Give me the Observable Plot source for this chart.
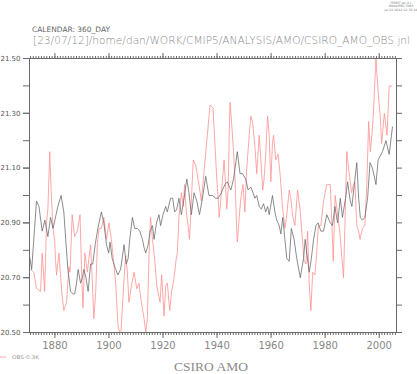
<!DOCTYPE html>
<html><head><meta charset="utf-8">
<script src="https://cdn.jsdelivr.net/npm/d3@7"></script>
<script src="https://cdn.jsdelivr.net/npm/@observablehq/plot@0.6"></script>
<style>body{margin:0;background:#fff}svg{display:block}</style>
</head><body><div id="chart"></div>
<script>
const modelYears = [1870.6,1871.4,1873.2,1874.1,1875.3,1876.3,1877.4,1878.4,1879.3,1881.1,1882.3,1883.3,1884.0,1884.8,1885.8,1886.8,1887.3,1888.0,1888.6,1889.5,1890.2,1890.7,1891.5,1892.3,1893.2,1894.0,1894.9,1895.9,1897.2,1898.1,1899.1,1899.9,1900.4,1901.2,1902.5,1903.3,1904.3,1905.6,1906.4,1907.1,1907.7,1908.7,1909.5,1910.5,1911.4,1912.4,1913.0,1913.6,1914.5,1915.2,1916.1,1916.7,1917.6,1918.5,1919.1,1920.0,1921.0,1921.6,1922.8,1923.6,1924.3,1925.1,1925.9,1926.8,1927.8,1928.8,1929.6,1930.5,1931.5,1932.5,1933.5,1934.6,1935.8,1937.0,1938.3,1939.5,1940.4,1941.6,1942.9,1943.8,1945.1,1946.1,1947.5,1948.5,1949.4,1950.6,1951.5,1952.5,1953.3,1954.0,1954.7,1955.6,1956.4,1957.2,1958.0,1958.7,1959.3,1960.5,1961.4,1962.1,1963.0,1963.6,1964.3,1965.1,1965.8,1966.7,1967.5,1968.5,1969.5,1970.8,1972.0,1972.6,1973.2,1974.1,1974.9,1975.7,1976.6,1977.4,1978.4,1979.4,1980.6,1981.9,1982.7,1983.6,1984.6,1985.6,1986.4,1987.7,1988.3,1989.3,1989.9,1990.8,1991.7,1992.4,1993.0,1993.8,1994.7,1995.7,1996.6,1997.5,1998.8,1999.6,2001.2,2002.5,2003.7,2004.9];
const modelValues = [20.78,20.73,20.98,20.96,20.87,20.91,20.85,20.92,20.88,20.96,21.00,20.94,20.84,20.73,20.65,20.64,20.64,20.68,20.73,20.68,20.70,20.73,20.70,20.65,20.75,20.75,20.82,20.88,20.94,20.90,20.82,20.79,20.83,20.77,20.73,20.71,20.73,20.82,20.75,20.77,20.84,20.92,20.88,20.88,20.87,20.84,20.81,20.79,20.82,20.87,20.89,20.84,20.90,20.93,20.89,20.93,20.96,20.94,20.99,20.99,20.94,20.95,20.99,20.93,20.99,21.06,21.01,20.93,21.01,20.98,20.93,20.99,21.07,21.00,21.00,20.99,20.99,21.01,21.04,21.05,21.02,21.06,21.16,21.08,21.08,21.06,21.02,21.03,21.01,20.99,21.00,20.96,20.95,20.97,20.94,20.96,20.93,21.00,20.94,20.91,20.89,20.86,20.92,20.84,20.77,20.76,20.88,20.84,20.77,20.70,20.77,20.84,20.79,20.72,20.77,20.84,20.89,20.90,20.87,20.87,20.93,20.90,20.89,20.96,20.90,20.99,20.92,21.00,21.05,20.98,20.96,21.04,21.12,20.99,20.92,20.91,20.92,20.99,21.12,21.10,21.04,21.13,21.16,21.20,21.15,21.25];
const obsYears = [1871.0,1872.2,1873.2,1874.7,1875.3,1876.2,1876.9,1877.4,1878.1,1878.6,1879.3,1879.9,1880.2,1880.6,1881.5,1882.5,1883.3,1884.3,1885.2,1885.6,1886.4,1887.3,1888.3,1889.3,1889.9,1890.4,1891.1,1892.0,1893.2,1893.7,1894.4,1895.1,1895.7,1896.3,1897.2,1898.1,1899.1,1900.0,1900.9,1901.6,1902.5,1903.3,1904.3,1905.6,1906.2,1906.8,1907.4,1908.3,1909.3,1910.3,1911.1,1912.0,1913.0,1913.6,1914.2,1914.8,1915.4,1916.1,1916.9,1917.7,1918.3,1918.9,1919.5,1920.4,1921.0,1921.6,1922.5,1923.2,1924.1,1924.9,1925.3,1925.9,1926.8,1927.5,1928.0,1928.6,1929.3,1929.8,1930.3,1931.2,1932.1,1933.3,1934.2,1935.4,1936.4,1937.4,1938.5,1939.1,1939.9,1940.4,1940.8,1941.6,1942.2,1942.6,1943.1,1943.6,1944.1,1944.5,1944.8,1945.5,1946.1,1946.7,1947.2,1947.5,1948.2,1948.8,1949.6,1950.3,1951.0,1951.9,1952.5,1953.1,1954.0,1954.7,1955.6,1956.2,1956.9,1957.4,1958.0,1958.7,1959.3,1959.9,1960.5,1960.9,1961.7,1962.6,1963.4,1964.2,1965.1,1965.8,1966.7,1967.3,1967.9,1968.8,1969.8,1970.8,1971.6,1972.2,1972.9,1973.5,1974.1,1974.7,1975.4,1976.2,1976.8,1977.5,1978.4,1979.4,1980.6,1981.9,1982.5,1983.0,1983.7,1984.6,1985.4,1986.2,1986.8,1987.4,1988.0,1988.9,1989.8,1990.5,1991.0,1991.7,1992.4,1992.9,1993.8,1994.7,1995.4,1996.1,1996.7,1997.3,1997.8,1998.8,1999.6,2000.3,2000.9,2001.9,2002.9,2003.7,2004.6];
const obsValues = [20.73,20.72,20.66,20.65,20.79,20.65,20.90,20.95,21.16,21.02,20.88,20.84,20.77,20.71,20.79,20.65,20.58,20.61,20.74,20.72,20.93,20.85,20.87,20.93,20.71,20.59,20.79,20.72,20.82,20.72,20.55,20.65,20.82,20.88,20.88,20.92,20.84,20.90,20.84,20.77,20.68,20.53,20.48,20.70,20.78,20.72,20.61,20.67,20.72,20.66,20.68,20.61,20.55,20.50,20.55,20.77,20.92,20.84,20.77,20.67,20.64,20.61,20.71,20.56,20.67,20.68,20.58,20.65,20.70,20.77,20.79,20.92,21.01,20.96,21.04,20.94,20.89,20.84,20.94,21.13,21.11,21.04,20.98,21.11,21.22,21.33,21.32,21.21,21.06,20.99,20.92,21.01,21.08,21.13,21.05,20.95,21.02,21.22,21.34,21.25,21.16,21.05,20.89,20.83,20.92,20.99,21.04,20.94,21.10,21.22,21.29,21.27,21.18,21.08,21.22,21.13,21.02,21.06,21.15,21.29,21.22,21.05,21.19,21.22,21.13,21.15,21.07,20.96,20.88,20.93,21.02,20.99,20.93,20.89,21.02,20.94,20.84,20.76,20.75,20.87,20.68,20.58,20.72,20.71,20.78,20.89,20.89,20.98,21.04,21.04,20.89,20.76,21.00,20.93,20.87,20.77,20.70,20.92,21.16,21.08,21.01,21.04,21.05,20.89,20.87,20.84,20.88,20.89,21.04,21.27,21.16,21.22,21.29,21.50,21.38,21.30,21.19,21.30,21.22,21.40,21.40];

const xMajorTicks = [1880, 1900, 1920, 1940, 1960, 1980, 2000];
const xMinorTicks = d3.range(1871, 2007);
const yTicks = [20.5, 20.6, 20.7, 20.8, 20.9, 21.0, 21.1, 21.2, 21.3, 21.4, 21.5];
const yLabels = [20.5, 20.7, 20.9, 21.1, 21.3, 21.5];
const seriesLabel = "OBS-0.3K";
const titleText = "[23/07/12]/home/dan/WORK/CMIP5/ANALYSIS/AMO/CSIRO_AMO_OBS.jnl";
const calendarText = "CALENDAR: 360_DAY";
const bottomTitle = "CSIRO AMO";
const stampLines = ["FERRET Ver. 6.1", "NOAA/PMEL TMAP", "Jul 23 2012 12:35:44"];

const model = modelYears.map((t, i) => ({t, v: modelValues[i]}));
const obs = obsYears.map((t, i) => ({t, v: obsValues[i]}));

const axisColor = "#6a6a6a";
const blank = () => "";

const chart = Plot.plot({
  width: 417, height: 374,
  marginLeft: 29, marginRight: 21, marginTop: 58, marginBottom: 42,
  style: {fontFamily: "DejaVu Sans", background: "#fff"},
  x: {domain: [1870.6, 2006.4]},
  y: {domain: [20.5, 21.5]},
  marks: [
    Plot.line(obs, {x: "t", y: "v", stroke: "#ff9090", strokeWidth: 0.8, clip: true}),
    Plot.line(model, {x: "t", y: "v", stroke: "#666", strokeWidth: 0.75, clip: true}),
    Plot.axisY({ticks: yTicks, tickSize: 6, tickFormat: blank, stroke: axisColor, label: null}),
    Plot.axisY({ticks: yLabels, tickSize: 6, tickPadding: 3, tickFormat: d => d.toFixed(2), fontSize: 7, stroke: axisColor, fill: "#555", label: null}),
    Plot.axisY({anchor: "right", ticks: yTicks, tickSize: 5, tickFormat: blank, stroke: axisColor, label: null}),
    Plot.axisX({ticks: xMinorTicks, tickSize: 3, tickFormat: blank, stroke: axisColor, label: null}),
    Plot.axisX({ticks: xMajorTicks, tickSize: 6, tickPadding: 3, tickFormat: d => String(d), fontSize: 10, stroke: axisColor, fill: "#888", label: null}),
    Plot.axisX({anchor: "top", ticks: xMinorTicks, tickSize: 3, tickFormat: blank, stroke: axisColor, label: null}),
    Plot.axisX({anchor: "top", ticks: xMajorTicks, tickSize: 6, tickFormat: blank, stroke: axisColor, label: null}),
    Plot.frame({stroke: axisColor, strokeWidth: 1})
  ]
});

const svg = d3.select(chart);
svg.selectAll("text").filter(function () { return this.textContent === ""; }).remove();

const stampWidths = [21, 24, 33];
const stamp = svg.append("g").attr("fill", "#777").attr("font-family", "DejaVu Sans").attr("font-size", 3).attr("text-anchor", "middle");
stampLines.forEach((s, i) => stamp.append("text").attr("x", 401).attr("y", 4 + i * 3.3)
  .attr("textLength", stampWidths[i]).attr("lengthAdjust", "spacingAndGlyphs").text(s));

svg.append("text").attr("x", 32).attr("y", 32).attr("text-anchor", "start").attr("font-family", "DejaVu Sans").attr("font-size", 7.4)
  .attr("fill", "#666").attr("textLength", 78).attr("lengthAdjust", "spacingAndGlyphs").text(calendarText);
svg.append("text").attr("x", 33).attr("y", 44).attr("text-anchor", "start").attr("font-family", "DejaVu Sans").attr("font-size", 10)
  .attr("font-weight", 300).attr("fill", "#8a8a8a").attr("textLength", 377).attr("lengthAdjust", "spacingAndGlyphs").text(titleText);

svg.append("line").attr("x1", 0).attr("x2", 6).attr("y1", 357).attr("y2", 357).attr("stroke", "#ff9090").attr("stroke-width", 0.8);
svg.append("text").attr("x", 12).attr("y", 359).attr("text-anchor", "start").attr("font-family", "DejaVu Sans").attr("font-size", 5)
  .attr("fill", "#999").attr("textLength", 27).attr("lengthAdjust", "spacingAndGlyphs").text(seriesLabel);

svg.append("text").attr("x", 211).attr("y", 371).attr("text-anchor", "middle").attr("font-family", "Liberation Serif")
  .attr("font-size", 13.5).attr("fill", "#8a8a8a").text(bottomTitle);

document.getElementById("chart").appendChild(chart);
</script></body></html>
